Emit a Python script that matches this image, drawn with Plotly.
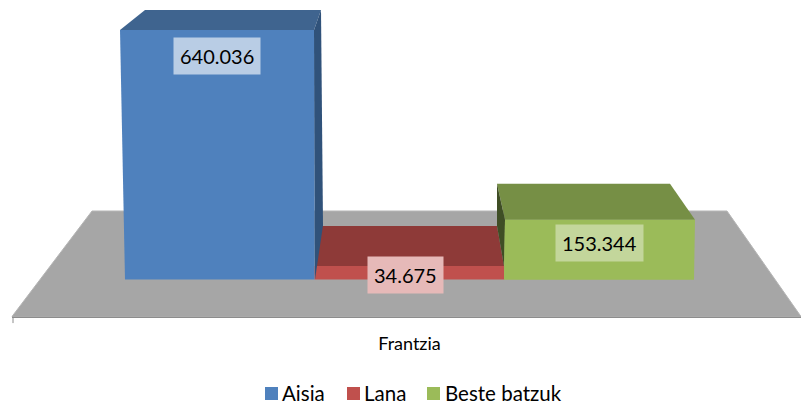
import plotly.graph_objects as go

categories = ["Frantzia"]
series_names = ["Aisia", "Lana", "Beste batzuk"]
aisia = [640036]
lana = [34675]
beste = [153344]
value_labels = ["640.036", "34.675", "153.344"]

FONT = "Lato"
W, H = 801, 405
BASE_PX = 279.5
PLOT_BOTTOM = 318
UNITS_PER_PX = aisia[0] / (BASE_PX - 30)
CENTER_PX = 409.5

def X(px):
    return (px - CENTER_PX) / W

def Y(px):
    return (BASE_PX - px) * UNITS_PER_PX

def PY(px):
    return (PLOT_BOTTOM - px) / PLOT_BOTTOM

def poly(pts):
    return "M" + " L".join(f"{X(a)},{Y(b)}" for a, b in pts) + " Z"

BAR_COLORS = ["#4f81bd", "#c0504d", "#9bbb59"]
LABEL_BG = ["#b9cde5", "#e6b9b8", "#c3d69b"]

fig = go.Figure()
for name, vals, col in zip(series_names, [aisia, lana, beste], BAR_COLORS):
    fig.add_trace(go.Bar(x=[0], y=vals, name=name, marker=dict(color=col, line=dict(width=0)),
                         hoverinfo="skip"))

def face(pts, color):
    fig.add_trace(go.Scatter(x=[X(a) for a, b in pts] + [X(pts[0][0])],
                             y=[b for a, b in pts] + [pts[0][1]],
                             mode="lines", fill="toself", fillcolor=color,
                             line=dict(width=0, color=color), showlegend=False, hoverinfo="skip"))

# pseudo-3D faces: heights follow the series values, offsets are the chart's perspective
va, vl, vb = aisia[0], lana[0], beste[0]
dpx = UNITS_PER_PX
face([(315, vl), (504, vl), (497, vl + 40 * dpx), (322, vl + 40 * dpx)], "#8e3a38")
face([(120, va), (314, va), (321, va + 20 * dpx), (145, va + 20 * dpx)], "#3f648f")
face([(314, va), (321, va + 20 * dpx), (323, 54 * dpx), (315, 0)], "#30527a")
face([(125, 0), (120, va), (125, va)], "#4f81bd")
face([(505, vb), (695, vb), (670, vb + 36 * dpx), (497, vb + 36 * dpx)], "#768f45")
face([(497, vb + 36 * dpx), (505, vb), (504, vl), (497, vl + 40 * dpx)], "#3f4e25")
face([(504, 0), (505, vb), (695, vb), (694, 0)], "#9bbb59")

shapes = [
    dict(type="path", layer="below", xref="x", yref="y",
         path=poly([(92, 211), (727, 211), (801, 316.5), (12, 316.5)]),
         fillcolor="#a6a6a6", line=dict(width=1, color="#b5b5b5")),
    dict(type="line", layer="below", xref="x", yref="y", x0=X(12), x1=X(801), y0=Y(317.5), y1=Y(317.5),
         line=dict(width=1.5, color="#8c8c8c")),
    dict(type="line", layer="above", xref="x", yref="paper", x0=X(13), x1=X(13), y0=0, y1=-0.016,
         line=dict(width=1, color="#8c8c8c")),
]

annots = []
for txt, bg, cx, cy in zip(value_labels, LABEL_BG, [217, 405.5, 599], [55.5, 274.5, 243]):
    annots.append(dict(x=X(cx), y=Y(cy), xref="x", yref="y", text=txt, showarrow=False,
                       bgcolor=bg, borderpad=6, font=dict(family=FONT, size=20, color="#000000")))

# legend row: swatch + name
for name, col, sw, tx in zip(series_names, BAR_COLORS, [265, 347, 427], [282, 364, 445]):
    shapes.append(dict(type="rect", xref="paper", yref="paper", x0=sw / W, x1=(sw + 13) / W,
                       y0=PY(400), y1=PY(387), fillcolor=col, line=dict(width=0)))
    annots.append(dict(x=tx / W, y=PY(404.5), xref="paper", yref="paper", text=name, showarrow=False,
                       xanchor="left", yanchor="bottom", borderpad=0, borderwidth=0,
                       font=dict(family=FONT, size=20.5, color="#000000")))

fig.update_layout(
    width=W, height=H, autosize=False,
    margin=dict(l=0, r=0, t=0, b=H - PLOT_BOTTOM, pad=0),
    paper_bgcolor="white", plot_bgcolor="white",
    barmode="group", bargap=1 - 569 / W, bargroupgap=0,
    xaxis=dict(range=[X(0), X(W)], tickmode="array", tickvals=[0], ticktext=categories,
               showgrid=False, zeroline=False, showline=False, ticks="outside", ticklen=9,
               tickcolor="rgba(0,0,0,0)", tickfont=dict(family=FONT, size=18, color="#000000"), fixedrange=True),
    yaxis=dict(range=[Y(PLOT_BOTTOM), Y(0)], visible=False, fixedrange=True),
    shapes=shapes, annotations=annots, showlegend=False,
)
fig.write_html("out.html", config={"displayModeBar": False},
               post_script="document.body.style.margin='0';document.documentElement.style.overflow='hidden';")
